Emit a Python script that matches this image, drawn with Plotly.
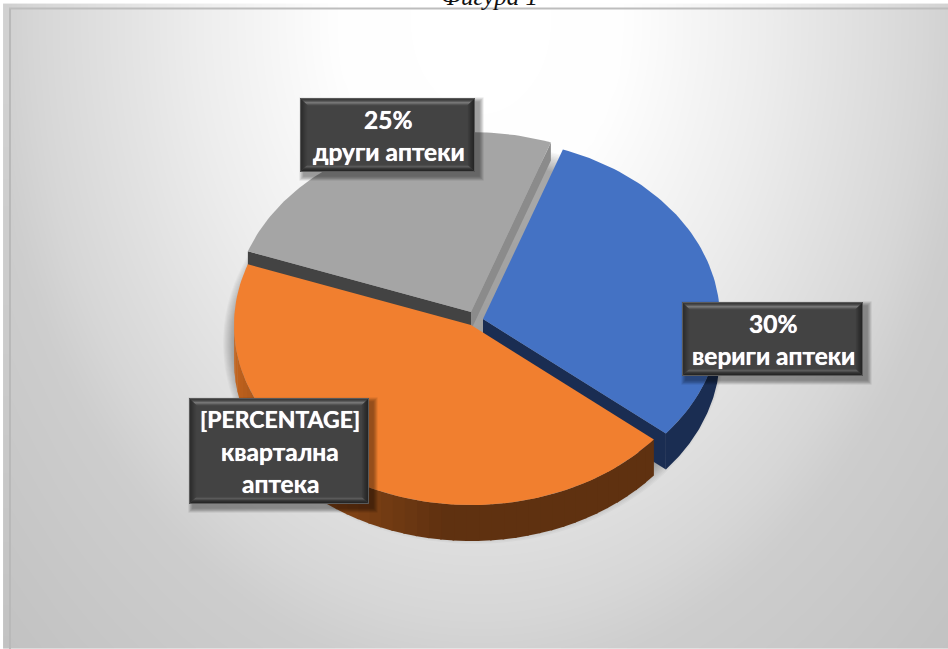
import numpy as np
import plotly.graph_objects as go

# ---- data ----
categories = ["вериги аптеки", "квартална аптека", "други аптеки"]
shares = [30.5, 44.5, 25]
share_labels = ["30%", "[PERCENTAGE]", "25%"]
label_lines = [["вериги аптеки"], ["квартална", "аптека"], ["други аптеки"]]
caption = "Фигура 1"

# ---- style / layout ----
W, H = 948, 649
START_DEG = -70.3
RX, RY = 237, 180
centers = [(483, 319), (471, 325), (471, 312)]
depths = [36, 36, 18]
tops = ["#4472c4", "#f17f2f", "#a5a5a5"]
boxes = [(682, 302, 863, 376), (189, 398, 369, 504), (300, 98, 475, 172)]

fig = go.Figure()

# background gradient
gx = np.linspace(9, W, 80)
gy = np.linspace(9, H, 60)
X, Y = np.meshgrid(gx, gy)
dist = np.hypot((X - 480) / 470, (Y - 20) / 630)
bg = np.interp(dist, [0, 0.3, 0.6, 0.95, 1.05, 1.45], [255, 254, 237, 214, 205, 193])
fig.add_trace(go.Heatmap(x=gx, y=gy, z=bg, zmin=0, zmax=255, zsmooth="best", showscale=False,
                         colorscale=[[0, "#000000"], [1, "#ffffff"]], hoverinfo="skip"))


def poly(xs, ys, color, opacity=1.0):
    fig.add_trace(go.Scatter(x=list(xs), y=list(ys), mode="lines", fill="toself", fillcolor=color,
                             line=dict(width=0, color=color), opacity=opacity,
                             hoverinfo="skip", showlegend=False))


# slice angles from the shares
edges = START_DEG + np.cumsum([0] + shares) * 3.6
spans = [(edges[i], edges[i + 1]) for i in range(3)]

# soft shadow under the pie, clipped to its picture rectangle
tt = np.radians(np.linspace(0, 360, 180))
for k in range(14, 0, -1):
    sx = np.clip(474 + (RX + k * 1.0) * np.cos(tt), 218, 730)
    sy = np.clip(343 + (RY + k * 1.5) * np.sin(tt), 120, 552)
    poly(sx, sy, "#000000", 0.028)


def arc(c, a0, a1, n=80, dy=0):
    t = np.radians(np.linspace(a0, a1, n))
    return c[0] + RX * np.cos(t), c[1] + dy + RY * np.sin(t)


def hexmix(c1, c2, f):
    a = [int(c1[i:i + 2], 16) for i in (1, 3, 5)]
    b = [int(c2[i:i + 2], 16) for i in (1, 3, 5)]
    return "#%02x%02x%02x" % tuple(int(round(a[i] + (b[i] - a[i]) * f)) for i in range(3))


# gray slice
c, d = centers[2], depths[2]
a0, a1 = spans[2]
ex, ey = arc(c, a1, a1, 1)
poly([c[0], ex[0], ex[0], c[0]], [c[1], ey[0], ey[0] + d, c[1] + d], "#8b8b8b")
ex, ey = arc(c, a0, a0, 1)
poly([c[0], ex[0], ex[0], c[0]], [c[1], ey[0], ey[0] + 18, c[1] + 18], "#434343")
ax, ay = arc(c, a0, a1)
poly([c[0], *ax], [c[1], *ay], tops[2])

# blue slice
c, d = centers[0], depths[0]
a0, a1 = spans[0]
ex, ey = arc(c, a1, a1, 1)
poly([c[0], ex[0], ex[0], c[0]], [c[1], ey[0], ey[0] + d, c[1] + d], "#1a2d52")
wx, wy = arc(c, max(a0, 0), a1)
poly([*wx, *wx[::-1]], [*wy, *(wy[::-1] + d)], "#1a2d52")
ax, ay = arc(c, a0, a1)
poly([c[0], *ax], [c[1], *ay], tops[0])

# orange slice: wall shaded in strips, then top
c, d = centers[1], depths[1]
a0, a1 = spans[1]
steps = np.linspace(a0, 182, 48)
for i in range(len(steps) - 1):
    wx, wy = arc(c, steps[i], steps[i + 1] + 0.4, 5)
    f = np.clip((steps[i] - 95) / 80, 0, 1)
    poly([*wx, *wx[::-1]], [*wy, *(wy[::-1] + d)], hexmix("#5f3110", "#c9671f", f))
ax, ay = arc(c, a0, a1, 120)
poly([c[0], *ax], [c[1], *ay], tops[1])

shapes = []
annotations = []

# frame of the picture
shapes.append(dict(type="line", xref="x", yref="y", x0=9, x1=W, y0=8.5, y1=8.5,
                   line=dict(color="#bdbdbd", width=2)))
shapes.append(dict(type="line", xref="x", yref="y", x0=10, x1=10, y0=9, y1=H,
                   line=dict(color="#b9b9b9", width=2)))


def add_box(x0, y0, x1, y1):
    # soft drop shadow
    for k in range(8, 0, -1):
        shapes.append(dict(type="rect", xref="x", yref="y", x0=x0 + 4 - k * 0.6, x1=x1 + 4 + k * 0.6,
                           y0=y0 + 4 - k * 0.6, y1=y1 + 4 + k * 0.6,
                           fillcolor="rgba(0,0,0,0.055)", line=dict(width=0)))
    shapes.append(dict(type="rect", xref="x", yref="y", x0=x0, x1=x1, y0=y0, y1=y1,
                       fillcolor="#434343", line=dict(width=0)))
    top = ["#5a5a5a", "#3c3c3c", "#484848", "#5c5c5c", "#767676", "#6a6a6a", "#555555", "#474747"]
    side_l = ["#5a5a5a", "#2e2e2e", "#303030", "#343434", "#383838", "#3c3c3c", "#3f3f3f", "#424242"]
    side_r = ["#5a5a5a", "#262626", "#2a2a2a", "#2e2e2e", "#323232", "#383838", "#3c3c3c", "#424242"]
    bot = ["#5a5a5a", "#262626", "#2e2e2e", "#383838", "#4c4c4c", "#5a5a5a", "#4c4c4c", "#444444"]
    B = len(top)
    for k in range(B):
        i0, i1 = k, k + 1
        for cols, pth in (
            (top, f"M{x0+i0},{y0+i0}L{x1-i0},{y0+i0}L{x1-i1},{y0+i1}L{x0+i1},{y0+i1}Z"),
            (bot, f"M{x0+i0},{y1-i0}L{x1-i0},{y1-i0}L{x1-i1},{y1-i1}L{x1-i1},{y1-i1}L{x0+i1},{y1-i1}Z"),
            (side_l, f"M{x0+i0},{y0+i0}L{x0+i1},{y0+i1}L{x0+i1},{y1-i1}L{x0+i0},{y1-i0}Z"),
            (side_r, f"M{x1-i0},{y0+i0}L{x1-i1},{y0+i1}L{x1-i1},{y1-i1}L{x1-i0},{y1-i0}Z"),
        ):
            shapes.append(dict(type="path", path=pth, xref="x", yref="y",
                               fillcolor=cols[k], line=dict(width=0)))


LINE_H = 32


def label_font(txt):
    return dict(family="Lato, 'Open Sans', sans-serif", size=23 if txt.isascii() and len(txt) > 4 else 24.5,
                color="#ffffff", weight="bold", shadow="0 0 0.7px #ffffff")


for i in range(3):
    x0, y0, x1, y1 = boxes[i]
    add_box(x0, y0, x1, y1)
    lines = [share_labels[i]] + label_lines[i]
    block = LINE_H * len(lines)
    start = (y0 + y1) / 2 - block / 2 + LINE_H / 2
    for j, txt in enumerate(lines):
        annotations.append(dict(x=(x0 + x1) / 2 + 1, y=start + j * LINE_H, xref="x", yref="y", text=txt,
                                showarrow=False, xanchor="center", yanchor="middle", font=label_font(txt)))

annotations.append(dict(x=489, y=5, xref="x", yref="y", text=caption, showarrow=False,
                        xanchor="center", yanchor="bottom", yshift=-7,
                        font=dict(family="Liberation Serif", size=25, color="#111111", style="italic")))

fig.update_layout(
    width=W, height=H, margin=dict(l=0, r=0, t=0, b=0), autosize=False,
    paper_bgcolor="#ffffff", plot_bgcolor="#ffffff", showlegend=False,
    xaxis=dict(range=[0, W], visible=False, fixedrange=True),
    yaxis=dict(range=[H, 0], visible=False, fixedrange=True),
    shapes=shapes, annotations=annotations,
)

fig.write_html("out.html", config={"displayModeBar": False},
               post_script="document.body.style.margin='0';document.body.style.overflow='hidden';")
